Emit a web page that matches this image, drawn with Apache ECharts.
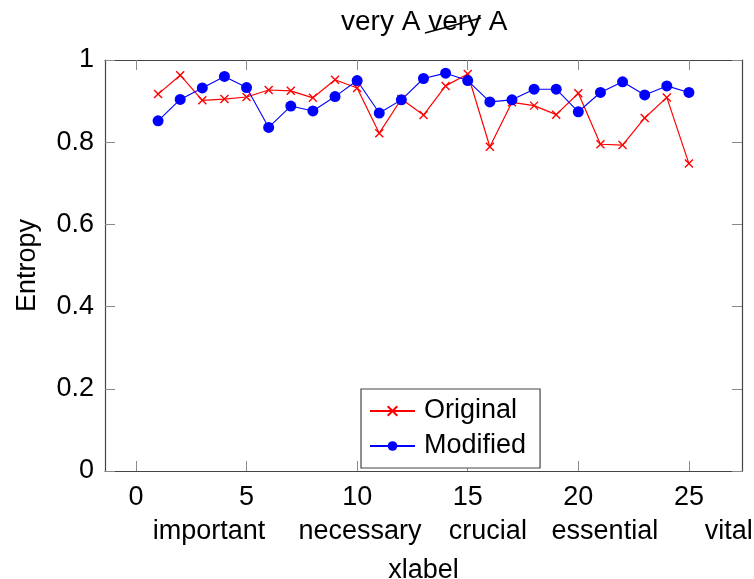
<!DOCTYPE html>
<html>
<head>
<meta charset="utf-8">
<script src="https://cdn.jsdelivr.net/npm/echarts@6/dist/echarts.min.js"></script>
<style>html,body{margin:0;padding:0;background:#fff}#c{width:754px;height:579px}</style>
</head>
<body>
<div id="c"></div>
<script>
const xValues = [1,2,3,4,5,6,7,8,9,10,11,12,13,14,15,16,17,18,19,20,21,22,23,24,25];
const original = [0.917,0.963,0.902,0.905,0.910,0.927,0.925,0.908,0.952,0.932,0.822,0.905,0.866,0.937,0.966,0.789,0.897,0.889,0.867,0.919,0.795,0.793,0.859,0.909,0.748];
const modified = [0.852,0.904,0.932,0.960,0.933,0.836,0.888,0.876,0.911,0.950,0.871,0.903,0.955,0.968,0.950,0.898,0.903,0.929,0.929,0.874,0.921,0.947,0.915,0.937,0.921];
const xTicks = [0,5,10,15,20,25];
const yTicks = [0,0.2,0.4,0.6,0.8,1];
const wordLabels = ['important','necessary','crucial','essential','vital'];
const wordPositions = [3.3,10.13,15.91,21.2,26.8];

const FONT = '"Liberation Sans", Arial, sans-serif';
const FS = 27;
const frameColor = '#444';
const tickColor = '#8a8a8a';
const xMin = -1.4, xMax = 27.4;

const chart = echarts.init(document.getElementById('c'), null, {renderer: 'canvas'});
const baseX = {
  type: 'value', min: xMin, max: xMax,
  splitLine: {show: false},
  axisLine: {show: true, onZero: false, lineStyle: {color: frameColor, width: 1.2}},
  axisTick: {show: true, inside: true, length: 10, customValues: xTicks, lineStyle: {color: tickColor, width: 1}},
  axisLabel: {show: false}
};
const baseY = {
  type: 'value', min: 0, max: 1, interval: 0.2,
  splitLine: {show: false},
  axisLine: {show: true, onZero: false, lineStyle: {color: frameColor, width: 1.2}},
  axisTick: {show: true, inside: true, length: 10, lineStyle: {color: tickColor, width: 1}},
  axisLabel: {show: false}
};
const option = {
  backgroundColor: '#fff',
  animation: false,
  textStyle: {fontFamily: FONT},
  title: {
    text: '{a|very A }{b|very}{a| A}',
    left: 336, top: 3,
    textStyle: {
      rich: {
        a: {fontFamily: FONT, fontSize: 28, color: '#000', fontWeight: 'normal'},
        b: {fontFamily: FONT, fontSize: 28, color: '#000', fontWeight: 'normal'}
      }
    }
  },
  grid: {left: 105, right: 12, top: 60, bottom: 108, containLabel: false, outerBoundsMode: 'none'},
  xAxis: [
    Object.assign({}, baseX, {
      position: 'bottom',
      axisLabel: {show: true, customValues: xTicks, margin: 13, fontSize: FS, color: '#000', fontFamily: FONT},
      name: 'xlabel', nameLocation: 'middle', nameGap: 86,
      nameTextStyle: {fontSize: FS, color: '#000', fontFamily: FONT}
    }),
    Object.assign({}, baseX, {position: 'top'}),
    {
      type: 'value', min: xMin, max: xMax, position: 'bottom', offset: 37,
      splitLine: {show: false}, axisLine: {show: false, onZero: false}, axisTick: {show: false},
      axisLabel: {
        show: true, customValues: wordPositions, margin: 10, fontSize: FS, color: '#000', fontFamily: FONT,
        formatter: function (v) {
          for (let i = 0; i < wordPositions.length; i++) if (Math.abs(wordPositions[i] - v) < 1e-6) return wordLabels[i];
          return '';
        }
      }
    }
  ],
  yAxis: [
    Object.assign({}, baseY, {
      position: 'left',
      axisLabel: {show: true, margin: 11, fontSize: FS, color: '#000', fontFamily: FONT,
        formatter: function (v) { return String(Math.round(v * 10) / 10); }},
      name: 'Entropy', nameLocation: 'middle', nameGap: 64,
      nameTextStyle: {fontSize: FS, color: '#000', fontFamily: FONT}
    }),
    Object.assign({}, baseY, {position: 'right'})
  ],
  legend: {
    orient: 'vertical', left: 361, top: 389,
    backgroundColor: '#fff', borderColor: frameColor, borderWidth: 1.2,
    padding: [7, 14, 7, 8], itemGap: 5, itemWidth: 45, itemHeight: 12,
    textStyle: {fontSize: FS, color: '#000', fontFamily: FONT, lineHeight: 30, padding: [0, 0, 0, 4]},
    data: ['Original', 'Modified']
  },
  series: [
    {
      name: 'Original', type: 'line',
      data: xValues.map((x, i) => [x, original[i]]),
      symbol: 'path://M0,0L10,10M10,0L0,10', symbolSize: 8,
      lineStyle: {color: '#ff0000', width: 1.2},
      itemStyle: {color: 'rgba(0,0,0,0)', borderColor: '#ff0000', borderWidth: 1.4},
      emphasis: {disabled: true}
    },
    {
      name: 'Modified', type: 'line',
      data: xValues.map((x, i) => [x, modified[i]]),
      symbol: 'circle', symbolSize: 11,
      lineStyle: {color: '#0000ff', width: 1.1},
      itemStyle: {color: '#0000ff', borderWidth: 0},
      emphasis: {disabled: true}
    }
  ],
  graphic: [
    {type: 'line', shape: {x1: 425, y1: 33, x2: 481, y2: 18}, style: {stroke: '#000', lineWidth: 1.3}, z: 100}
  ]
};
chart.setOption(option);
</script>
</body>
</html>
